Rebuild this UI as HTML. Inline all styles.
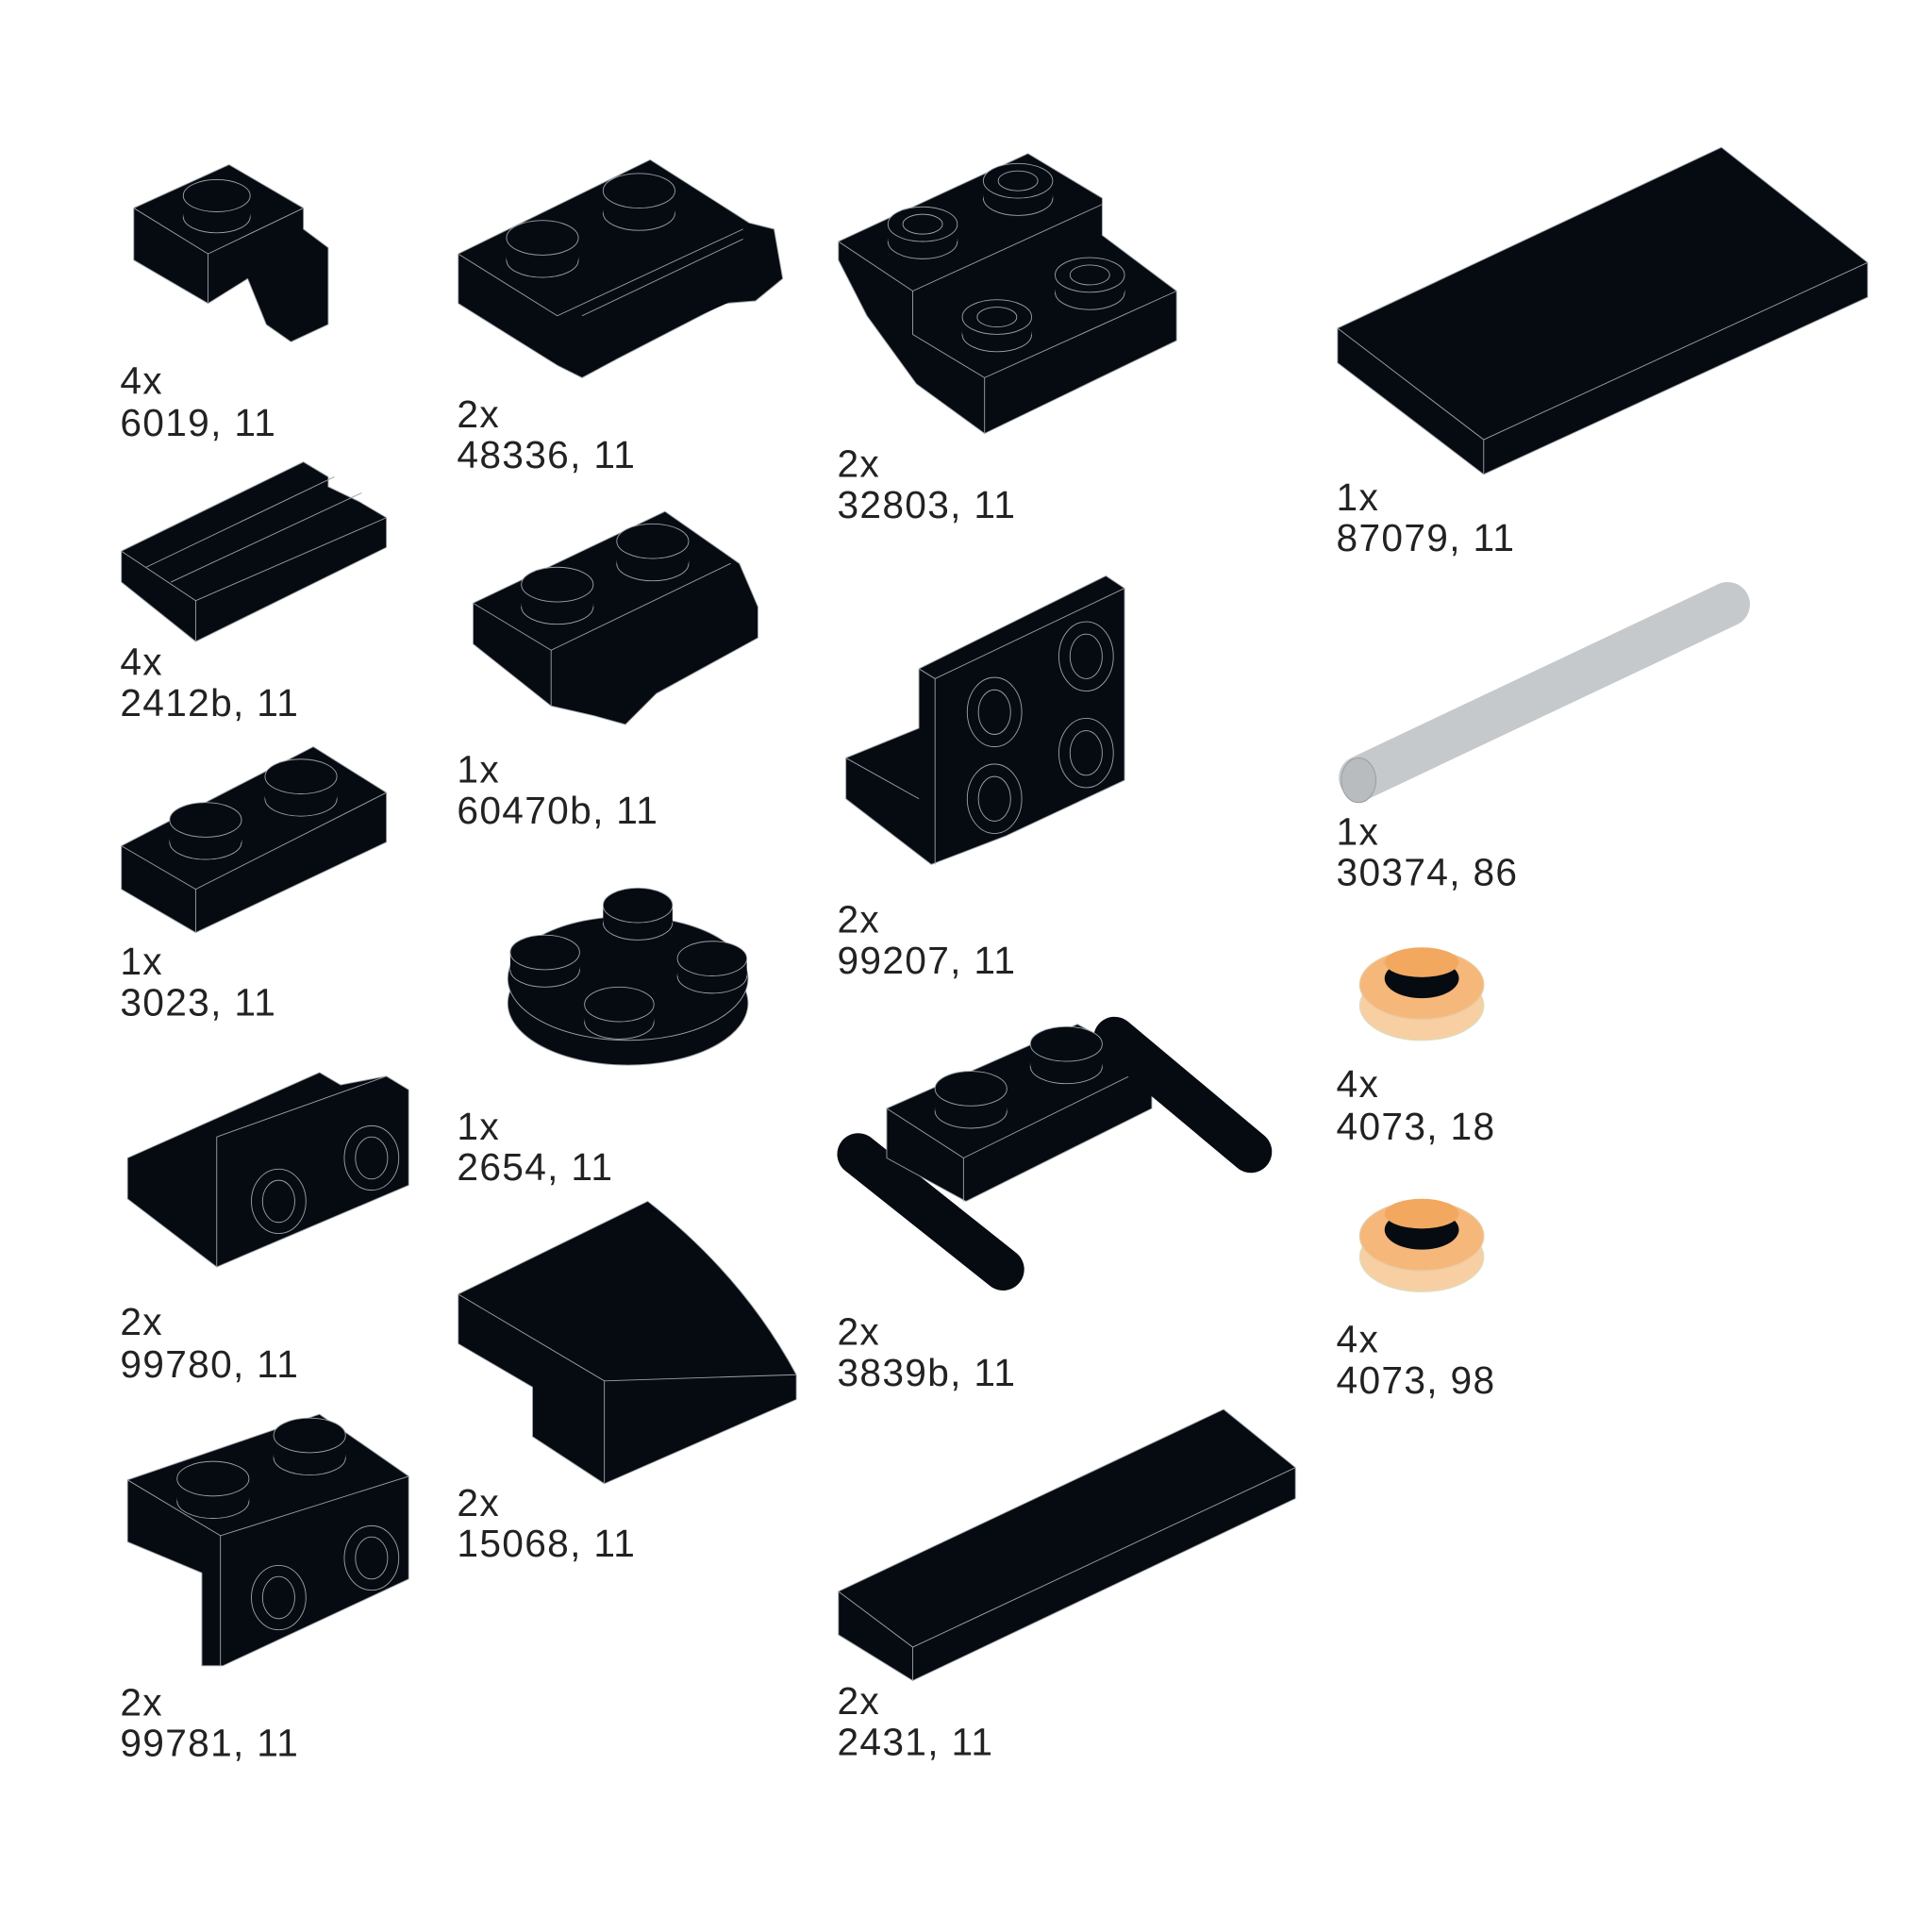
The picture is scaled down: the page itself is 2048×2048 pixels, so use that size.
<!DOCTYPE html>
<html><head><meta charset="utf-8"><style>
html,body{margin:0;padding:0;background:#fff;}
svg{display:block}
text{font-family:"Liberation Sans",sans-serif;font-size:31px;fill:#222;letter-spacing:1px}
.p{fill:#060b12;stroke:#9aa0a6;stroke-width:0.7;stroke-linejoin:round}
.s{fill:#060b12;stroke:#9aa0a6;stroke-width:0.7}
.l{fill:none;stroke:#9aa0a6;stroke-width:0.7}
</style></head><body>
<svg width="2048" height="2048" viewBox="0 0 1560 1560" xmlns="http://www.w3.org/2000/svg">
<!-- 6019 -->
<polygon class="p" points="108,168 185,133 245,168 245,185 265,200 265,262 235,276 215,262 200,225 168,245 108,210"/>
<polyline class="l" points="108,168 168,205 245,168"/><line class="l" x1="168" y1="205" x2="168" y2="245"/>
<ellipse class="s" cx="175" cy="175" rx="27" ry="13"/><rect x="148" y="160" width="54" height="15" fill="#060b12"/><ellipse class="s" cx="175" cy="158" rx="27" ry="13"/>
<text x="97" y="318">4x</text><text x="97" y="352">6019, 11</text>
<!-- 2412b -->
<polygon class="p" points="98,445 245,373 265,385 265,393 290,405 312,418 312,442 158,518 98,470"/>
<polyline class="l" points="98,445 158,485 312,418"/><line class="l" x1="158" y1="485" x2="158" y2="518"/>
<line class="l" x1="118" y1="458" x2="270" y2="385"/><line class="l" x1="138" y1="470" x2="292" y2="398"/>
<text x="97" y="545">4x</text><text x="97" y="578">2412b, 11</text>
<!-- 3023 -->
<polygon class="p" points="98,683 253,603 312,640 312,680 158,753 98,718"/>
<polyline class="l" points="98,683 158,718 312,640"/><line class="l" x1="158" y1="718" x2="158" y2="753"/>
<ellipse class="s" cx="166" cy="680" rx="29" ry="14"/><rect x="137" y="662" width="58" height="18" fill="#060b12"/><ellipse class="s" cx="166" cy="662" rx="29" ry="14"/>
<ellipse class="s" cx="243" cy="645" rx="29" ry="14"/><rect x="214" y="627" width="58" height="18" fill="#060b12"/><ellipse class="s" cx="243" cy="627" rx="29" ry="14"/>
<text x="97" y="787">1x</text><text x="97" y="820">3023, 11</text>
<!-- 99780 -->
<polygon class="p" points="103,935 258,866 275,876 312,869 330,880 330,957 175,1023 103,968"/>
<polyline class="l" points="175,918 312,869"/><line class="l" x1="175" y1="918" x2="175" y2="1023"/>
<ellipse class="s" cx="225" cy="970" rx="22" ry="26"/><ellipse class="s" cx="225" cy="970" rx="13" ry="17"/>
<ellipse class="s" cx="300" cy="935" rx="22" ry="26"/><ellipse class="s" cx="300" cy="935" rx="13" ry="17"/>
<text x="97" y="1078">2x</text><text x="97" y="1112">99780, 11</text>
<!-- 99781 -->
<polygon class="p" points="103,1195 258,1142 330,1192 330,1275 180,1345 163,1345 163,1270 103,1245"/>
<polyline class="l" points="103,1195 178,1240 330,1192"/><line class="l" x1="178" y1="1240" x2="178" y2="1345"/>
<ellipse class="s" cx="225" cy="1290" rx="22" ry="26"/><ellipse class="s" cx="225" cy="1290" rx="13" ry="17"/>
<ellipse class="s" cx="300" cy="1258" rx="22" ry="26"/><ellipse class="s" cx="300" cy="1258" rx="13" ry="17"/>
<ellipse class="s" cx="172" cy="1212" rx="29" ry="14"/><rect x="143" y="1194" width="58" height="18" fill="#060b12"/><ellipse class="s" cx="172" cy="1194" rx="29" ry="14"/>
<ellipse class="s" cx="250" cy="1177" rx="29" ry="14"/><rect x="221" y="1159" width="58" height="18" fill="#060b12"/><ellipse class="s" cx="250" cy="1159" rx="29" ry="14"/>
<text x="97" y="1385">2x</text><text x="97" y="1418">99781, 11</text>
<!-- 48336 -->
<polygon class="p" points="370,205 525,129 605,180 625,185 632,225 610,243 585,245 498,290 470,305 450,295 370,245"/>
<polyline class="l" points="370,205 450,255 600,185"/>
<line x1="470" y1="275" x2="605" y2="215" stroke="#060b12" stroke-width="40" stroke-linecap="round"/>
<line class="l" x1="470" y1="255" x2="600" y2="193"/>
<ellipse class="s" cx="438" cy="210" rx="29" ry="14"/><rect x="409" y="192" width="58" height="18" fill="#060b12"/><ellipse class="s" cx="438" cy="192" rx="29" ry="14"/>
<ellipse class="s" cx="516" cy="172" rx="29" ry="14"/><rect x="487" y="154" width="58" height="18" fill="#060b12"/><ellipse class="s" cx="516" cy="154" rx="29" ry="14"/>
<text x="369" y="345">2x</text><text x="369" y="378">48336, 11</text>
<!-- 60470b -->
<polygon class="p" points="382,487 537,413 597,455 612,490 612,515 530,560 505,585 480,578 445,570 382,520"/>
<polyline class="l" points="382,487 445,525 590,455"/><line class="l" x1="445" y1="525" x2="445" y2="570"/>
<ellipse class="s" cx="450" cy="490" rx="29" ry="14"/><rect x="421" y="472" width="58" height="18" fill="#060b12"/><ellipse class="s" cx="450" cy="472" rx="29" ry="14"/>
<ellipse class="s" cx="527" cy="455" rx="29" ry="14"/><rect x="498" y="437" width="58" height="18" fill="#060b12"/><ellipse class="s" cx="527" cy="437" rx="29" ry="14"/>
<text x="369" y="632">1x</text><text x="369" y="665">60470b, 11</text>
<!-- 2654 -->
<ellipse class="s" cx="507" cy="810" rx="97" ry="50"/><ellipse class="s" cx="507" cy="790" rx="97" ry="50"/>
<g>
<ellipse class="s" cx="515" cy="745" rx="28" ry="14"/><rect x="487" y="731" width="56" height="14" fill="#060b12"/><ellipse class="s" cx="515" cy="731" rx="28" ry="14"/>
<ellipse class="s" cx="440" cy="783" rx="28" ry="14"/><rect x="412" y="769" width="56" height="14" fill="#060b12"/><ellipse class="s" cx="440" cy="769" rx="28" ry="14"/>
<ellipse class="s" cx="575" cy="788" rx="28" ry="14"/><rect x="547" y="774" width="56" height="14" fill="#060b12"/><ellipse class="s" cx="575" cy="774" rx="28" ry="14"/>
<ellipse class="s" cx="500" cy="825" rx="28" ry="14"/><rect x="472" y="811" width="56" height="14" fill="#060b12"/><ellipse class="s" cx="500" cy="811" rx="28" ry="14"/>
</g>
<text x="369" y="920">1x</text><text x="369" y="953">2654, 11</text>
<!-- 15068 -->
<path class="p" d="M370,1045 L523,970 Q600,1030 643,1110 L643,1130 L488,1198 L430,1160 L430,1120 L370,1085 Z"/>
<path class="l" d="M370,1045 L488,1115 L643,1110 M488,1115 L488,1198"/>
<text x="369" y="1224">2x</text><text x="369" y="1257">15068, 11</text>
<!-- 32803 -->
<polygon class="p" points="677,195 830,124 890,160 890,190 950,235 950,275 795,350 740,310 700,255 677,210"/>
<polyline class="l" points="677,195 737,235 890,165"/><polyline class="l" points="737,235 737,270 795,305 950,235"/><line class="l" x1="795" y1="305" x2="795" y2="350"/>
<g>
<ellipse class="s" cx="745" cy="195" rx="28" ry="14"/><rect x="717" y="181" width="56" height="14" fill="#060b12"/><ellipse class="s" cx="745" cy="181" rx="28" ry="14"/><ellipse class="l" cx="745" cy="181" rx="16" ry="8"/>
<ellipse class="s" cx="822" cy="160" rx="28" ry="14"/><rect x="794" y="146" width="56" height="14" fill="#060b12"/><ellipse class="s" cx="822" cy="146" rx="28" ry="14"/><ellipse class="l" cx="822" cy="146" rx="16" ry="8"/>
<ellipse class="s" cx="805" cy="270" rx="28" ry="14"/><rect x="777" y="256" width="56" height="14" fill="#060b12"/><ellipse class="s" cx="805" cy="256" rx="28" ry="14"/><ellipse class="l" cx="805" cy="256" rx="16" ry="8"/>
<ellipse class="s" cx="880" cy="236" rx="28" ry="14"/><rect x="852" y="222" width="56" height="14" fill="#060b12"/><ellipse class="s" cx="880" cy="222" rx="28" ry="14"/><ellipse class="l" cx="880" cy="222" rx="16" ry="8"/>
</g>
<text x="676" y="385">2x</text><text x="676" y="418">32803, 11</text>
<!-- 99207 -->
<polygon class="p" points="683,612 742,588 742,540 893,465 908,475 908,630 812,675 752,698 683,645"/>
<polyline class="l" points="742,540 755,548 755,698"/><line class="l" x1="755" y1="548" x2="908" y2="475"/><polyline class="l" points="683,612 742,645"/>
<ellipse class="s" cx="803" cy="575" rx="22" ry="28"/><ellipse class="s" cx="803" cy="575" rx="13" ry="18"/>
<ellipse class="s" cx="877" cy="530" rx="22" ry="28"/><ellipse class="s" cx="877" cy="530" rx="13" ry="18"/>
<ellipse class="s" cx="803" cy="645" rx="22" ry="28"/><ellipse class="s" cx="803" cy="645" rx="13" ry="18"/>
<ellipse class="s" cx="877" cy="608" rx="22" ry="28"/><ellipse class="s" cx="877" cy="608" rx="13" ry="18"/>
<text x="676" y="753">2x</text><text x="676" y="786">99207, 11</text>
<!-- 3839b -->
<line x1="693" y1="932" x2="810" y2="1025" stroke="#060b12" stroke-width="34" stroke-linecap="round"/>
<polygon class="p" points="716,895 870,827 930,860 930,895 780,970 716,935"/>
<polyline class="l" points="716,895 778,935 930,860"/><line class="l" x1="778" y1="935" x2="778" y2="970"/>
<line x1="900" y1="838" x2="1010" y2="930" stroke="#060b12" stroke-width="34" stroke-linecap="round"/>
<ellipse class="s" cx="784" cy="897" rx="29" ry="14"/><rect x="755" y="879" width="58" height="18" fill="#060b12"/><ellipse class="s" cx="784" cy="879" rx="29" ry="14"/>
<ellipse class="s" cx="861" cy="861" rx="29" ry="14"/><rect x="832" y="843" width="58" height="18" fill="#060b12"/><ellipse class="s" cx="861" cy="843" rx="29" ry="14"/>
<text x="676" y="1086">2x</text><text x="676" y="1119">3839b, 11</text>
<!-- 2431 -->
<polygon class="p" points="677,1285 988,1138 1046,1185 1046,1210 737,1357 677,1320"/>
<polyline class="l" points="677,1285 737,1330 1046,1185"/><line class="l" x1="737" y1="1330" x2="737" y2="1357"/>
<text x="676" y="1384">2x</text><text x="676" y="1417">2431, 11</text>
<!-- 87079 -->
<polygon class="p" points="1080,265 1390,119 1508,212 1508,240 1198,383 1080,293"/>
<polyline class="l" points="1080,265 1198,355 1508,212"/><line class="l" x1="1198" y1="355" x2="1198" y2="383"/>
<text x="1079" y="412">1x</text><text x="1079" y="445">87079, 11</text>
<!-- 30374 -->
<line x1="1099" y1="628" x2="1395" y2="488" stroke="#c5c9cc" stroke-width="36" stroke-linecap="round"/>
<ellipse cx="1097" cy="630" rx="14" ry="18" fill="#b8bcbf" stroke="#999" stroke-width="0.7"/>
<text x="1079" y="682">1x</text><text x="1079" y="715">30374, 86</text>
<!-- 4073 -->
<g>
<ellipse cx="1148" cy="812" rx="50" ry="28" fill="#f7cfa3" stroke="#ddb" stroke-width="1"/>
<ellipse cx="1148" cy="795" rx="50" ry="28" fill="#f6b77a" stroke="#e9c9a0" stroke-width="1"/>
<ellipse cx="1148" cy="790" rx="30" ry="16" fill="#060b12"/>
<ellipse cx="1148" cy="777" rx="30" ry="12" fill="#f3a860"/>
</g>
<text x="1079" y="886">4x</text><text x="1079" y="920">4073, 18</text>
<g>
<ellipse cx="1148" cy="1015" rx="50" ry="28" fill="#f7cfa3" stroke="#ddb" stroke-width="1"/>
<ellipse cx="1148" cy="998" rx="50" ry="28" fill="#f6b77a" stroke="#e9c9a0" stroke-width="1"/>
<ellipse cx="1148" cy="993" rx="30" ry="16" fill="#060b12"/>
<ellipse cx="1148" cy="980" rx="30" ry="12" fill="#f3a860"/>
</g>
<text x="1079" y="1092">4x</text><text x="1079" y="1125">4073, 98</text>
</svg>
</body></html>
